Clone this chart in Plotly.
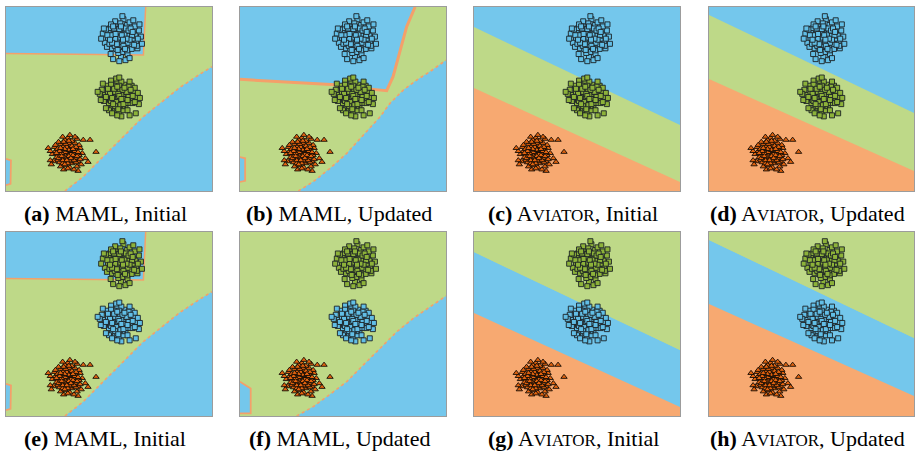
import plotly.graph_objects as go

# ---------------------------------------------------------------------------
# Sample points (same three clusters in every panel), panel units x 0..10, y 0..9
# ---------------------------------------------------------------------------
top_x = [5.60, 5.35, 5.82, 5.12, 6.05, 5.48, 5.72, 5.25, 5.95, 5.40, 6.20, 4.95, 5.66, 5.88,
         5.15, 6.32, 5.52, 5.03, 6.10, 5.78, 4.80, 5.30, 6.45, 5.58, 5.90, 5.22, 6.00, 4.70,
         5.45, 6.25, 5.70, 4.90, 6.55, 5.10, 5.85, 5.35, 6.15, 5.55, 4.98, 6.38, 5.28, 5.75,
         5.62, 6.02, 5.18, 5.42, 5.95, 6.28, 4.85, 5.50, 5.20, 5.80, 6.00, 5.65, 6.60, 4.62,
         5.38, 6.48, 5.02, 5.88, 6.18, 5.08, 5.72, 5.48, 5.98, 5.28, 6.35, 5.60, 4.75, 6.08,
         5.55, 5.75, 5.30, 5.90, 5.45, 5.65, 5.10, 6.12, 5.38, 5.82, 5.50, 6.00, 5.25, 5.70,
         5.95, 5.42, 6.22, 5.15, 5.62, 5.85, 5.32, 6.05, 5.58, 4.92, 6.40, 5.78, 5.20, 5.68,
         6.15, 5.05]
top_y = [7.40, 7.62, 7.21, 7.85, 7.55, 7.05, 7.88, 7.30, 7.02, 8.05, 7.70, 7.48, 6.80, 8.12,
         6.98, 7.30, 7.72, 7.95, 6.95, 7.50, 7.25, 8.30, 7.85, 6.55, 6.70, 7.58, 8.25, 7.70,
         6.75, 8.05, 8.40, 7.05, 7.55, 8.15, 7.75, 6.95, 7.45, 8.20, 7.72, 6.98, 7.10, 7.05,
         7.98, 7.88, 7.42, 7.38, 7.38, 7.60, 7.90, 6.35, 6.45, 6.40, 6.50, 8.55, 7.20, 7.45,
         7.88, 8.15, 7.20, 6.88, 8.35, 6.70, 7.30, 7.55, 7.60, 7.80, 7.10, 7.15, 7.95, 7.18,
         7.50, 7.65, 7.45, 7.25, 7.80, 7.28, 7.62, 7.62, 7.18, 7.95, 7.92, 7.40, 7.95, 7.10,
         7.85, 6.90, 7.15, 7.25, 7.62, 7.45, 7.68, 7.95, 8.05, 7.62, 7.45, 6.95, 8.05, 7.40,
         7.78, 7.40]

mid_x = [5.45, 5.20, 5.70, 4.95, 5.90, 5.35, 5.60, 5.05, 5.80, 5.25, 5.55, 6.05, 4.80, 5.40,
         5.15, 5.75, 4.65, 6.20, 5.00, 5.65, 5.30, 5.95, 4.90, 6.30, 5.50, 5.10, 5.85, 4.55,
         5.40, 6.10, 5.20, 5.70, 4.75, 5.60, 6.40, 5.05, 5.45, 5.85, 5.25, 5.00, 6.15, 4.70,
         5.55, 5.35, 5.75, 4.85, 6.00, 5.15, 5.90, 6.00, 6.45, 6.30, 6.50, 5.35, 5.65, 4.60,
         5.95, 5.10, 4.45, 5.80, 5.50, 5.25, 4.95, 6.25, 5.60, 5.40, 6.25, 5.70, 5.05, 5.50,
         5.40, 5.60, 5.20, 5.75, 5.30, 5.50, 5.05, 5.85, 5.35, 5.65, 5.45, 5.95, 5.10, 5.55,
         5.25, 5.80, 4.85, 6.05, 5.40, 5.70, 5.15, 5.90, 5.50, 5.30, 5.60, 6.15, 4.95, 5.75,
         5.45, 5.20]
mid_y = [4.60, 4.85, 4.40, 4.55, 4.75, 4.25, 5.05, 4.95, 4.15, 4.50, 4.80, 4.50, 4.70, 5.30,
         4.10, 5.20, 4.95, 4.85, 4.30, 4.60, 3.95, 4.30, 5.15, 4.60, 3.85, 5.40, 5.00, 4.75,
         4.05, 5.15, 4.70, 3.95, 4.40, 5.35, 4.80, 4.65, 4.95, 4.55, 5.15, 3.95, 4.30, 5.25,
         4.35, 5.50, 4.85, 4.05, 5.35, 3.80, 3.95, 3.70, 4.25, 3.80, 4.55, 4.70, 4.15, 4.45,
         5.10, 5.20, 4.85, 4.70, 5.55, 4.35, 4.85, 5.05, 3.65, 3.70, 4.35, 4.60, 4.45, 5.15,
         4.50, 4.70, 4.60, 4.50, 4.85, 4.40, 4.75, 4.85, 4.35, 4.95, 4.75, 4.60, 4.40, 4.20,
         5.00, 4.30, 4.60, 4.95, 5.10, 4.25, 4.55, 4.45, 4.65, 4.15, 4.50, 4.65, 5.00, 5.05,
         4.00, 4.25]

low_x = [3.00, 2.75, 3.25, 2.55, 3.10, 2.85, 3.40, 2.65, 3.20, 2.40, 2.95, 3.55, 2.70, 3.15,
         2.50, 3.35, 2.90, 3.05, 2.35, 3.50, 2.80, 3.30, 2.60, 3.00, 2.45, 3.60, 2.85, 3.20,
         2.25, 3.45, 2.70, 3.10, 2.95, 2.55, 3.35, 2.80, 3.70, 2.30, 3.05, 2.65, 3.25, 2.90,
         3.45, 2.40, 3.15, 2.75, 3.55, 2.15, 2.85, 3.40, 3.10, 2.05, 2.15, 3.75, 4.08, 4.37,
         3.50, 3.98, 3.85, 3.65, 2.60, 3.30, 2.95, 3.20, 2.50, 3.00, 3.60, 2.20, 2.75, 3.35,
         2.90, 3.05, 2.80, 3.15, 2.70, 3.25, 2.95, 3.05, 2.85, 3.35, 2.60, 3.10, 2.75, 3.20,
         2.90, 3.45, 2.55, 3.00, 2.65, 3.30, 2.80, 3.15, 2.45, 3.40, 2.95, 3.25, 2.70, 3.05,
         2.85, 3.50]
low_y = [1.85, 2.05, 1.65, 1.75, 2.25, 1.45, 2.00, 2.30, 1.35, 1.95, 2.45, 1.75, 1.60, 2.05,
         1.50, 2.35, 1.25, 1.55, 2.15, 1.45, 2.20, 1.85, 1.40, 2.60, 1.65, 2.10, 1.75, 2.45,
         1.80, 1.20, 1.95, 1.15, 2.05, 2.40, 1.60, 1.05, 1.85, 1.45, 2.35, 1.20, 2.15, 1.60,
         2.55, 2.25, 1.80, 1.35, 2.25, 1.95, 2.50, 1.40, 2.74, 2.10, 1.50, 2.50, 2.50, 1.91,
         0.98, 1.42, 1.60, 1.30, 1.85, 1.05, 1.40, 1.95, 2.05, 1.10, 1.55, 1.30, 2.65, 2.65,
         1.90, 1.70, 1.65, 1.95, 1.85, 1.75, 2.15, 2.00, 2.05, 1.95, 1.95, 1.45, 1.50, 2.20,
         2.30, 1.70, 1.60, 1.35, 2.10, 1.50, 2.40, 1.60, 1.85, 2.15, 1.50, 2.05, 1.70, 2.45,
         1.30, 1.90]

# ---------------------------------------------------------------------------
# Decision-region outlines
# ---------------------------------------------------------------------------
# MAML, initial model: top-left pocket, diagonal split, tiny corner pocket
mi_top_x = [0.00, 3.00, 6.67, 6.78]
mi_top_y = [6.73, 6.70, 6.65, 9.00]
mi_diag_x = [2.86, 3.75, 4.56, 5.37, 6.67, 7.48, 8.45, 9.42, 10.0]
mi_diag_y = [0.00, 0.70, 1.52, 2.33, 3.64, 4.29, 5.07, 5.72, 6.08]
mi_corner_x = [0.00, 0.22, 0.24, 0.00]
mi_corner_y = [0.29, 0.35, 1.50, 1.57]

# MAML, updated on the first task
mu_top_x = [0.00, 4.85, 5.99, 7.12, 7.43, 7.77, 8.09, 8.50]
mu_top_y = [5.46, 5.19, 5.02, 4.91, 5.59, 6.90, 8.04, 9.00]
mu_diag_x = [2.83, 3.56, 4.37, 5.18, 5.99, 6.80, 7.28, 7.93, 8.58, 9.22, 10.0]
mu_diag_y = [0.00, 0.46, 1.11, 1.84, 2.74, 3.63, 4.29, 4.94, 5.43, 5.84, 6.40]
mu_corner_x = [0.00, 0.25, 0.25, 0.00]
mu_corner_y = [0.45, 0.50, 1.60, 1.66]

# MAML, updated on the second task
mu2_diag_x = [2.75, 3.56, 4.37, 5.18, 5.99, 6.80, 7.61, 8.41, 9.22, 10.0]
mu2_diag_y = [0.00, 0.46, 1.06, 1.68, 2.50, 3.31, 4.12, 4.78, 5.35, 5.87]
mu2_corner_x = [0.00, 0.52, 0.52, 0.00]
mu2_corner_y = [0.13, 0.13, 1.35, 1.68]

# AVIATOR: two linear boundaries (y at x=0, y at x=10)
av_init_upper = [8.02, 3.23]
av_init_lower = [5.04, 0.44]
av_upd_upper = [8.61, 3.82]
av_upd_lower = [5.48, 0.98]

BLUE = "#74C7EC"
GREEN = "#BED988"
ORANGE = "#F7A971"
EDGE = "#F4A06A"

M_BLUE = "#62BEE6"
M_GREEN = "#8DB23A"
M_ORANGE = "#E2630F"

SC = "<span style='font-size:17px'>VIATOR</span>"
captions = [
    "<b>(a)</b> MAML, Initial",
    "<b>(b)</b> MAML, Updated",
    "<b>(c)</b> A" + SC + ", Initial",
    "<b>(d)</b> A" + SC + ", Updated",
    "<b>(e)</b> MAML, Initial",
    "<b>(f)</b> MAML, Updated",
    "<b>(g)</b> A" + SC + ", Initial",
    "<b>(h)</b> A" + SC + ", Updated",
]

W, H = 918, 454
col_px = [(6, 212), (240, 446), (474, 680), (709, 914)]
row_px = [(7, 191), (232, 416)]
caption_y_px = [213, 438]

fig = go.Figure()


def axes_of(i):
    s = "" if i == 0 else str(i + 1)
    return "x" + s, "y" + s


def poly(i, xs, ys, color):
    xa, ya = axes_of(i)
    fig.add_trace(go.Scatter(x=xs, y=ys, mode="lines", fill="toself", fillcolor=color,
                             line=dict(width=0, color=color), hoverinfo="skip",
                             showlegend=False, xaxis=xa, yaxis=ya))


def edge(i, xs, ys, width=1.5, dash="solid"):
    xa, ya = axes_of(i)
    fig.add_trace(go.Scatter(x=xs, y=ys, mode="lines",
                             line=dict(width=width, color=EDGE, dash=dash),
                             hoverinfo="skip", showlegend=False, xaxis=xa, yaxis=ya))


def maml_regions(i, top, diag, corner, top_w):
    if top is not None:
        tx, ty = top
        poly(i, [0] + tx + [0], [9] + ty + [9], BLUE)
    dx, dy = diag
    poly(i, dx + [10, dx[0]], dy + [0, dy[0]], BLUE)
    cx, cy = corner
    poly(i, cx, cy, BLUE)
    if top is not None:
        edge(i, tx, ty, width=top_w)
    edge(i, dx, dy, width=1.6, dash="dot")
    edge(i, cx, cy, width=1.8)


def aviator_regions(i, upper, lower, upper_color, band_color):
    # region above the upper boundary, band below, orange at the bottom
    poly(i, [0, 10, 10, 0], [upper[0], upper[1], 0, 0], band_color)
    poly(i, [0, 10, 10, 0], [upper[0], upper[1], 9, 9], upper_color)
    poly(i, [0, 10, 10, 0], [lower[0], lower[1], 0, 0], ORANGE)


def clusters(i, top_color, mid_color):
    xa, ya = axes_of(i)
    line = dict(width=0.9, color="#1c2326")
    fig.add_trace(go.Scatter(x=low_x, y=low_y, mode="markers", showlegend=False,
                             marker=dict(symbol="triangle-up", size=5.5, color=M_ORANGE,
                                         line=dict(width=0.9, color="#140c06")),
                             xaxis=xa, yaxis=ya, hoverinfo="skip"))
    fig.add_trace(go.Scatter(x=mid_x, y=mid_y, mode="markers", showlegend=False,
                             marker=dict(symbol="square", size=5, color=mid_color, line=line),
                             xaxis=xa, yaxis=ya, hoverinfo="skip"))
    fig.add_trace(go.Scatter(x=top_x, y=top_y, mode="markers", showlegend=False,
                             marker=dict(symbol="square", size=5, color=top_color, line=line),
                             xaxis=xa, yaxis=ya, hoverinfo="skip"))


# Row 1: top cluster blue, middle cluster green
maml_regions(0, (mi_top_x, mi_top_y), (mi_diag_x, mi_diag_y), (mi_corner_x, mi_corner_y), 1.5)
clusters(0, M_BLUE, M_GREEN)
maml_regions(1, (mu_top_x, mu_top_y), (mu_diag_x, mu_diag_y), (mu_corner_x, mu_corner_y), 3)
clusters(1, M_BLUE, M_GREEN)
aviator_regions(2, av_init_upper, av_init_lower, BLUE, GREEN)
clusters(2, M_BLUE, M_GREEN)
aviator_regions(3, av_upd_upper, av_upd_lower, BLUE, GREEN)
clusters(3, M_BLUE, M_GREEN)

# Row 2: labels of the two upper clusters swapped
maml_regions(4, (mi_top_x, mi_top_y), (mi_diag_x, mi_diag_y), (mi_corner_x, mi_corner_y), 1.5)
clusters(4, M_GREEN, M_BLUE)
maml_regions(5, None, (mu2_diag_x, mu2_diag_y), (mu2_corner_x, mu2_corner_y), 1.5)
clusters(5, M_GREEN, M_BLUE)
aviator_regions(6, av_init_upper, av_init_lower, GREEN, BLUE)
clusters(6, M_GREEN, M_BLUE)
aviator_regions(7, av_upd_upper, av_upd_lower, GREEN, BLUE)
clusters(7, M_GREEN, M_BLUE)

layout = dict(
    width=W, height=H,
    margin=dict(l=0, r=0, t=0, b=0),
    paper_bgcolor="white",
    plot_bgcolor=GREEN,
    showlegend=False,
    annotations=[],
)

for i in range(8):
    r, c = divmod(i, 4)
    x0, x1 = col_px[c]
    y0, y1 = row_px[r]
    s = "" if i == 0 else str(i + 1)
    ax_common = dict(showgrid=False, zeroline=False, showticklabels=False, ticks="",
                     showline=True, mirror=True, linecolor="#9c9c9c", linewidth=1,
                     fixedrange=True)
    layout["xaxis" + s] = dict(domain=[x0 / W, x1 / W], range=[0, 10],
                               anchor="y" + s, **ax_common)
    layout["yaxis" + s] = dict(domain=[1 - y1 / H, 1 - y0 / H], range=[0, 9],
                               anchor="x" + s, **ax_common)
    layout["annotations"].append(dict(
        text=captions[i], xref="paper", yref="paper",
        x=((x0 + x1) / 2 - 4) / W, y=1 - caption_y_px[r] / H,
        xanchor="center", yanchor="middle", showarrow=False,
        font=dict(family="Liberation Serif", size=22, color="black"),
    ))

fig.update_layout(**layout)
fig.write_html("out.html")
